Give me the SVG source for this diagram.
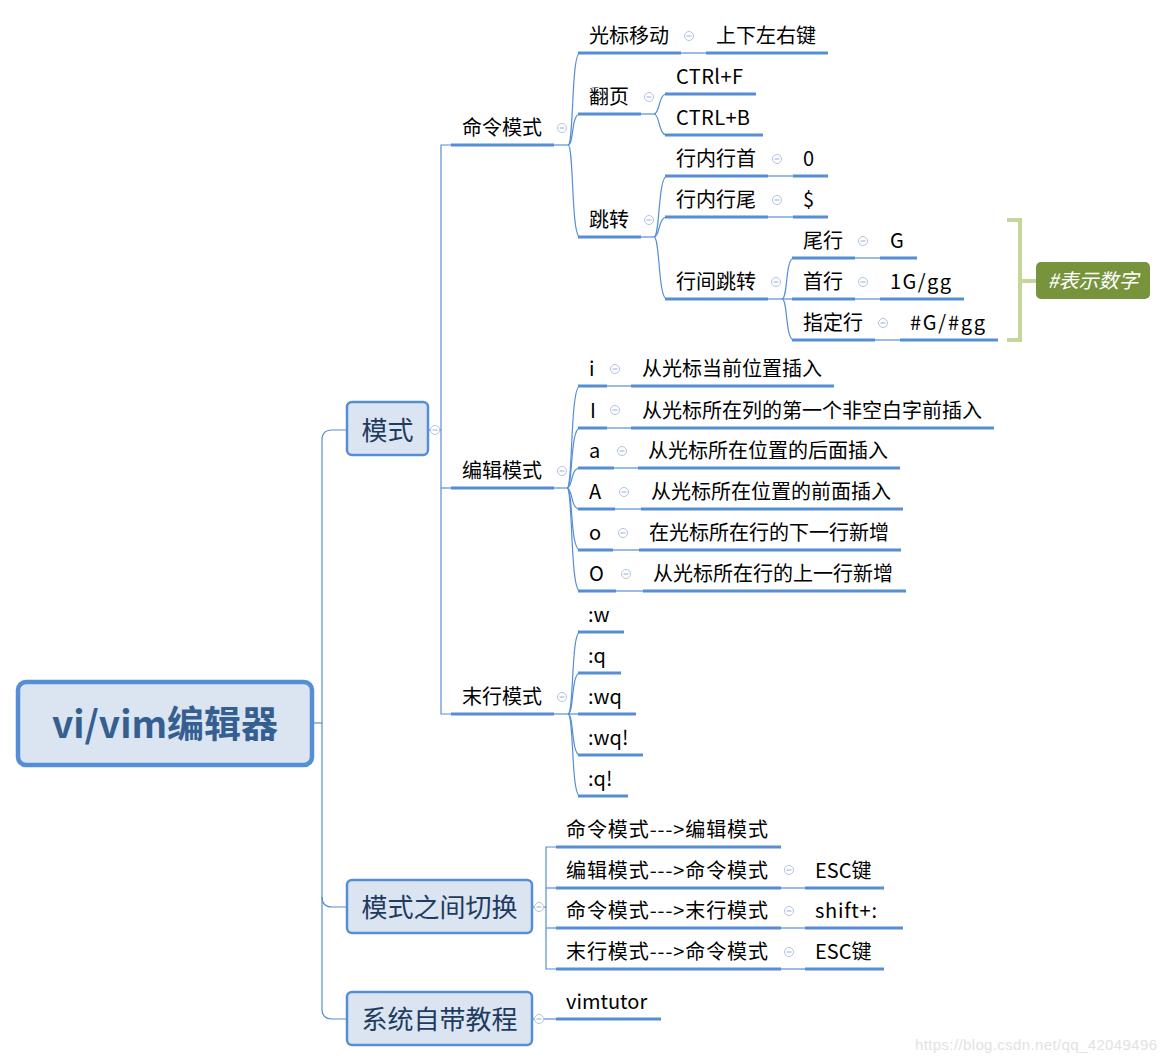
<svg xmlns="http://www.w3.org/2000/svg" width="1166" height="1062" viewBox="0 0 1166 1062">
<style>
text{font-family:"Noto Sans CJK SC","Noto Sans",sans-serif;fill:#000;}
.t{font-size:20px;}
.box{fill:#dbe5f1;stroke:#558ed5;stroke-width:2.5;}
.bt{font-size:26px;fill:#1f3b5f;}
.root{fill:#dbe5f1;stroke:#558ed5;stroke-width:4.5;}
.rt{font-size:37px;font-weight:bold;fill:#365f91;}
.ln{fill:none;stroke:#558ed5;stroke-width:1.2;}
.ul{fill:none;stroke:#558ed5;stroke-width:3;}
.cc{fill:#fff;stroke:#b4c3e0;stroke-width:1;}
.cm{stroke:#9aaed6;stroke-width:1;}
</style>
<defs>
<g id="col"><circle class="cc" r="4.5"/><line class="cm" x1="-2.5" y1="0" x2="2.5" y2="0"/></g>
</defs>
<rect width="1166" height="1062" fill="#fff"/>

<g id="connectors">
<path class="ln" d="M313,723 H322"/>
<path class="ln" d="M347,430 H332 Q322,430 322,440 V1009 Q322,1019 332,1019 H347"/>
<path class="ln" d="M322,897 Q322,907 332,907 H347"/>
<path class="ln" d="M428,430 H441"/>
<path class="ln" d="M451,145 H441 V714 H451"/>
<path class="ln" d="M441,488 H451"/>
<path class="ln" d="M554,145 H568"/>
<path class="ln" d="M568,145 C574,145 571,53 580,53"/>
<path class="ln" d="M568,145 C574,145 571,114 580,114"/>
<path class="ln" d="M568,145 C574,145 571,237 580,237"/>
<path class="ln" d="M681,53 H706"/>
<path class="ln" d="M641,114 H654"/>
<path class="ln" d="M654,114 C660,114 658,94 667,94"/>
<path class="ln" d="M654,114 C660,114 658,135 667,135"/>
<path class="ln" d="M641,237 H654"/>
<path class="ln" d="M654,237 C660,237 658,176 667,176"/>
<path class="ln" d="M654,237 C660,237 658,217 667,217"/>
<path class="ln" d="M654,237 C660,237 658,299 667,299"/>
<path class="ln" d="M768,176 H793"/>
<path class="ln" d="M768,217 H793"/>
<path class="ln" d="M768,299 H782"/>
<path class="ln" d="M782,299 C788,299 785,258 794,258"/>
<path class="ln" d="M782,299 H794"/>
<path class="ln" d="M782,299 C788,299 785,340 794,340"/>
<path class="ln" d="M855,258 H880"/>
<path class="ln" d="M855,299 H880"/>
<path class="ln" d="M875,340 H900"/>
<path class="ln" d="M554,488 H567"/>
<path class="ln" d="M567,488 C573,488 570,386 580,386"/>
<path class="ln" d="M567,488 C573,488 570,428 580,428"/>
<path class="ln" d="M567,488 C573,488 570,468 580,468"/>
<path class="ln" d="M567,488 C573,488 570,509 580,509"/>
<path class="ln" d="M567,488 C573,488 570,550 580,550"/>
<path class="ln" d="M567,488 C573,488 570,591 580,591"/>
<path class="ln" d="M607,386 H631"/>
<path class="ln" d="M607,428 H631"/>
<path class="ln" d="M614,468 H638"/>
<path class="ln" d="M615,509 H641"/>
<path class="ln" d="M613,550 H639"/>
<path class="ln" d="M616,591 H643"/>
<path class="ln" d="M554,714 H568"/>
<path class="ln" d="M568,714 C574,714 571,632 580,632"/>
<path class="ln" d="M568,714 C574,714 571,673 580,673"/>
<path class="ln" d="M568,714 H580"/>
<path class="ln" d="M568,714 C574,714 571,755 580,755"/>
<path class="ln" d="M568,714 C574,714 571,796 580,796"/>
<path class="ln" d="M532,907 H546"/>
<path class="ln" d="M556,847 H546 V969 H556"/>
<path class="ln" d="M546,888 H556"/>
<path class="ln" d="M546,928 H556"/>
<path class="ln" d="M781,888 H805"/>
<path class="ln" d="M781,928 H805"/>
<path class="ln" d="M781,969 H805"/>
<path class="ln" d="M532,1019 H556"/>
<path d="M1007,220 H1020 V340 H1007 M1020,281 H1036" fill="none" stroke="#c4d79b" stroke-width="4"/>
</g>

<g id="root">
<rect class="root" x="18" y="682" width="294" height="83" rx="8"/>
<text class="rt" x="165" y="738" text-anchor="middle">vi/vim编辑器</text>
</g>

<g id="n-moshi">
<rect class="box" x="347" y="402" width="81" height="53" rx="5"/>
<text class="bt" x="387.5" y="440" text-anchor="middle">模式</text>
<use href="#col" x="435" y="430"/>
</g>
<g id="n-qiehuan">
<rect class="box" x="347" y="880" width="185" height="53" rx="5"/>
<text class="bt" x="439.5" y="917" text-anchor="middle">模式之间切换</text>
<use href="#col" x="539" y="907"/>
</g>
<g id="n-jiaocheng">
<rect class="box" x="347" y="992" width="185" height="53" rx="5"/>
<text class="bt" x="439.5" y="1029" text-anchor="middle">系统自带教程</text>
<use href="#col" x="539" y="1019"/>
</g>

<g id="n-mingling">
<text class="t" x="462" y="135">命令模式</text>
<path class="ul" d="M451,145 H554"/>
<use href="#col" x="562" y="128"/>
</g>
<g id="n-bianji">
<text class="t" x="462" y="478">编辑模式</text>
<path class="ul" d="M451,488 H554"/>
<use href="#col" x="562" y="471"/>
</g>
<g id="n-moxing">
<text class="t" x="462" y="704">末行模式</text>
<path class="ul" d="M451,714 H554"/>
<use href="#col" x="562" y="697"/>
</g>

<g id="n-guangbiao">
<text class="t" x="589" y="43">光标移动</text>
<path class="ul" d="M578,53 H681"/>
<use href="#col" x="689" y="36"/>
</g>
<g id="n-shangxia">
<text class="t" x="716" y="43">上下左右键</text>
<path class="ul" d="M706,53 H828"/>
</g>
<g id="n-fanye">
<text class="t" x="589" y="104">翻页</text>
<path class="ul" d="M578,114 H641"/>
<use href="#col" x="649" y="97"/>
</g>
<g id="n-ctrlf">
<text class="t" x="676" y="84" textLength="67" lengthAdjust="spacing">CTRl+F</text>
<path class="ul" d="M665,94 H756"/>
</g>
<g id="n-ctrlb">
<text class="t" x="676" y="125" textLength="74" lengthAdjust="spacing">CTRL+B</text>
<path class="ul" d="M665,135 H763"/>
</g>
<g id="n-tiaozhuan">
<text class="t" x="589" y="227">跳转</text>
<path class="ul" d="M578,237 H641"/>
<use href="#col" x="649" y="220"/>
</g>
<g id="n-hangshou">
<text class="t" x="676" y="166">行内行首</text>
<path class="ul" d="M665,176 H768"/>
<use href="#col" x="777" y="159"/>
</g>
<g id="n-zero">
<text class="t" x="803" y="166">0</text>
<path class="ul" d="M793,176 H828"/>
</g>
<g id="n-hangwei">
<text class="t" x="676" y="207">行内行尾</text>
<path class="ul" d="M665,217 H768"/>
<use href="#col" x="777" y="200"/>
</g>
<g id="n-dollar">
<text class="t" x="803" y="207">$</text>
<path class="ul" d="M793,217 H828"/>
</g>
<g id="n-hangjian">
<text class="t" x="676" y="289">行间跳转</text>
<path class="ul" d="M665,299 H768"/>
<use href="#col" x="776" y="282"/>
</g>
<g id="n-weihang">
<text class="t" x="803" y="248">尾行</text>
<path class="ul" d="M792,258 H855"/>
<use href="#col" x="863" y="241"/>
</g>
<g id="n-G">
<text class="t" x="890" y="248">G</text>
<path class="ul" d="M880,258 H917"/>
</g>
<g id="n-shouhang">
<text class="t" x="803" y="289">首行</text>
<path class="ul" d="M792,299 H855"/>
<use href="#col" x="863" y="282"/>
</g>
<g id="n-1g">
<text class="t" x="890" y="289" textLength="61" lengthAdjust="spacing">1G/gg</text>
<path class="ul" d="M880,299 H964"/>
</g>
<g id="n-zhiding">
<text class="t" x="803" y="330">指定行</text>
<path class="ul" d="M792,340 H875"/>
<use href="#col" x="883" y="323"/>
</g>
<g id="n-ng">
<text class="t" x="910" y="330" textLength="75" lengthAdjust="spacing">#G/#gg</text>
<path class="ul" d="M900,340 H998"/>
</g>
<g id="n-note">
<rect x="1036" y="262" width="114" height="37" rx="5" fill="#77933c"/>
<text x="1093" y="288" text-anchor="middle" font-size="20" font-style="italic" style="fill:#fff">#表示数字</text>
</g>

<g id="n-i">
<text class="t" x="589" y="376">i</text>
<path class="ul" d="M578,386 H607"/>
<use href="#col" x="615" y="369"/>
</g>
<g id="n-i-v">
<text class="t" x="642" y="376">从光标当前位置插入</text>
<path class="ul" d="M631,386 H834"/>
</g>
<g id="n-I">
<text class="t" x="590" y="418">I</text>
<path class="ul" d="M578,428 H607"/>
<use href="#col" x="615" y="410"/>
</g>
<g id="n-I-v">
<text class="t" x="642" y="418">从光标所在列的第一个非空白字前插入</text>
<path class="ul" d="M631,428 H994"/>
</g>
<g id="n-a">
<text class="t" x="589" y="458">a</text>
<path class="ul" d="M578,468 H614"/>
<use href="#col" x="622" y="451"/>
</g>
<g id="n-a-v">
<text class="t" x="648" y="458">从光标所在位置的后面插入</text>
<path class="ul" d="M638,468 H900"/>
</g>
<g id="n-A">
<text class="t" x="589" y="499">A</text>
<path class="ul" d="M578,509 H615"/>
<use href="#col" x="624" y="492"/>
</g>
<g id="n-A-v">
<text class="t" x="651" y="499">从光标所在位置的前面插入</text>
<path class="ul" d="M641,509 H903"/>
</g>
<g id="n-o">
<text class="t" x="589" y="540">o</text>
<path class="ul" d="M578,550 H613"/>
<use href="#col" x="623" y="533"/>
</g>
<g id="n-o-v">
<text class="t" x="649" y="540">在光标所在行的下一行新增</text>
<path class="ul" d="M639,550 H901"/>
</g>
<g id="n-O">
<text class="t" x="589" y="581">O</text>
<path class="ul" d="M578,591 H616"/>
<use href="#col" x="626" y="574"/>
</g>
<g id="n-O-v">
<text class="t" x="653" y="581">从光标所在行的上一行新增</text>
<path class="ul" d="M643,591 H906"/>
</g>

<g id="n-w">
<text class="t" x="588" y="622">:w</text>
<path class="ul" d="M578,632 H624"/>
</g>
<g id="n-q">
<text class="t" x="588" y="663">:q</text>
<path class="ul" d="M578,673 H621"/>
</g>
<g id="n-wq">
<text class="t" x="588" y="704">:wq</text>
<path class="ul" d="M578,714 H636"/>
</g>
<g id="n-wqx">
<text class="t" x="588" y="745">:wq!</text>
<path class="ul" d="M578,755 H643"/>
</g>
<g id="n-qx">
<text class="t" x="588" y="786">:q!</text>
<path class="ul" d="M578,796 H628"/>
</g>

<g id="n-s1">
<text class="t" x="566" y="837" textLength="202" lengthAdjust="spacing">命令模式---&gt;编辑模式</text>
<path class="ul" d="M556,847 H781"/>
</g>
<g id="n-s2">
<text class="t" x="566" y="878" textLength="202" lengthAdjust="spacing">编辑模式---&gt;命令模式</text>
<path class="ul" d="M556,888 H781"/>
<use href="#col" x="789" y="870"/>
</g>
<g id="n-s2v">
<text class="t" x="815" y="878">ESC键</text>
<path class="ul" d="M805,888 H884"/>
</g>
<g id="n-s3">
<text class="t" x="566" y="918" textLength="202" lengthAdjust="spacing">命令模式---&gt;末行模式</text>
<path class="ul" d="M556,928 H781"/>
<use href="#col" x="789" y="911"/>
</g>
<g id="n-s3v">
<text class="t" x="815" y="918" textLength="62" lengthAdjust="spacing">shift+:</text>
<path class="ul" d="M805,928 H903"/>
</g>
<g id="n-s4">
<text class="t" x="566" y="959" textLength="202" lengthAdjust="spacing">末行模式---&gt;命令模式</text>
<path class="ul" d="M556,969 H781"/>
<use href="#col" x="789" y="952"/>
</g>
<g id="n-s4v">
<text class="t" x="815" y="959">ESC键</text>
<path class="ul" d="M805,969 H884"/>
</g>
<g id="n-vimtutor">
<text class="t" x="566" y="1009">vimtutor</text>
<path class="ul" d="M556,1019 H661"/>
</g>

<text x="915" y="1050" font-size="15" textLength="242" lengthAdjust="spacing" style="font-family:'Liberation Sans',Arial,sans-serif;fill:#e2e2e2">https://blog.csdn.net/qq_42049496</text>
</svg>
